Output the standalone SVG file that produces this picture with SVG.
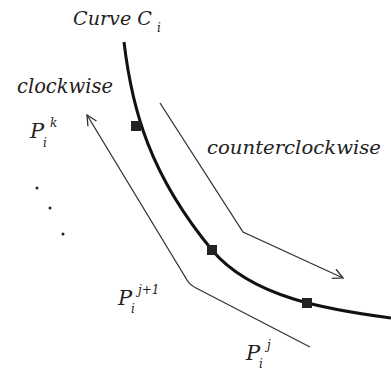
<svg xmlns="http://www.w3.org/2000/svg" width="391" height="370" viewBox="0 0 391 370">
<style>
.t{font-family:'DejaVu Serif',serif;font-style:italic;fill:#222}
.lbl{font-size:21px}
.sup{font-size:12px}
.arrow{fill:none;stroke:#333;stroke-width:1.3;marker-end:url(#open)}
.curve{fill:none;stroke:#111;stroke-width:3}
.sq{fill:#222}
</style>
<defs>
<marker id="open" viewBox="0 0 12 12" refX="11" refY="6" markerWidth="12" markerHeight="12" markerUnits="userSpaceOnUse" orient="auto">
<path d="M1,1 L11,6 L1,11" fill="none" stroke="#333" stroke-width="1.3"/>
</marker>
</defs>
<rect width="391" height="370" fill="#fff"/>
<g id="connectors">
<path class="arrow" d="M160,103 L243,232 L343,278"/>
<path class="arrow" d="M310,347 L196,288 Q190,285 187,280 L87,115"/>
</g>
<g id="curve">
<path class="curve" d="M124,42 C132,110 150,175 212,250 C252,298 330,310 391,318"/>
<rect class="sq" x="131" y="121" width="10" height="10"/>
<rect class="sq" x="207" y="245" width="10" height="10"/>
<rect class="sq" x="302" y="298" width="10" height="10"/>
</g>
<g id="points">
<circle cx="37" cy="188" r="1.5" fill="#222"/>
<circle cx="50" cy="208" r="1.5" fill="#222"/>
<circle cx="63" cy="234" r="1.5" fill="#222"/>
</g>
<g id="labels">
<text class="t lbl" x="73" y="25" font-size="19" style="font-size:19px" textLength="79" lengthAdjust="spacingAndGlyphs">Curve C</text>
<text class="t sup" x="157" y="32">i</text>
<text class="t lbl" x="17" y="93" textLength="96" lengthAdjust="spacingAndGlyphs">clockwise</text>
<text class="t lbl" x="207" y="154" style="font-size:18.5px" textLength="174" lengthAdjust="spacingAndGlyphs">counterclockwise</text>
<text class="t lbl" x="30" y="138">P</text>
<text class="t sup" x="50" y="127">k</text>
<text class="t sup" x="43" y="147">i</text>
<text class="t lbl" x="118" y="305">P</text>
<text class="t sup" x="138" y="294">j+1</text>
<text class="t sup" x="131" y="313">i</text>
<text class="t lbl" x="246" y="360">P</text>
<text class="t sup" x="267" y="349">j</text>
<text class="t sup" x="259" y="368">i</text>
</g>
</svg>
